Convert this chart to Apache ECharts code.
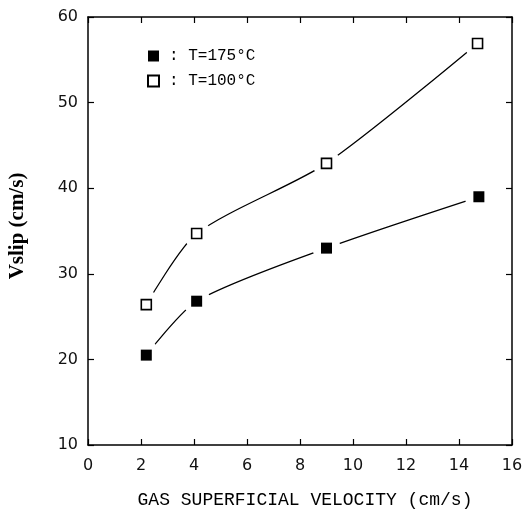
<!DOCTYPE html>
<html>
<head>
<meta charset="utf-8">
<script src="https://cdn.jsdelivr.net/npm/echarts@6/dist/echarts.min.js"></script>
<style>
  html, body { margin: 0; padding: 0; background: #fff; }
  #chart { width: 525px; height: 510px; }
</style>
</head>
<body>
<div id="chart"></div>
<script>
// gas superficial velocity (cm/s)
var velocity175 = [2.2, 4.1, 9.0, 14.75];
var velocity100 = [2.2, 4.1, 9.0, 14.7];
// Vslip (cm/s)
var vslip175 = [20.5, 26.8, 33.0, 39.0];
var vslip100 = [26.4, 34.7, 42.9, 56.9];
var xTicks = [0, 2, 4, 6, 8, 10, 12, 14, 16];
var yTicks = [10, 20, 30, 40, 50, 60];

function pairs(xs, ys) {
    var res = [];
    for (var i = 0; i < xs.length; i++) {
        res.push([xs[i], ys[i]]);
    }
    return res;
}

var pts175 = pairs(velocity175, vslip175);
var pts100 = pairs(velocity100, vslip100);

var chart = echarts.init(document.getElementById('chart'));

// each axis gets its own copies
function line() {
    return { show: true, onZero: false, lineStyle: { color: '#000', width: 1.5 } };
}
function tick() {
    return { show: true, inside: true, length: 6, lineStyle: { color: '#000', width: 1.2 } };
}
function label(margin) {
    return { show: true, margin: margin, color: '#111', fontSize: 16, fontFamily: 'DejaVu Sans' };
}

var option = {
    animation: false,
    backgroundColor: '#fff',
    grid: { left: 88, right: 13, top: 17, bottom: 65, containLabel: false, outerBoundsMode: 'none' },
    legend: {
        left: 142,
        top: 43,
        orient: 'vertical',
        itemWidth: 11,
        itemHeight: 11,
        itemGap: 9,
        icon: 'rect',
        data: ['T=175°C', 'T=100°C'],
        formatter: function (name) { return ': ' + name; },
        textStyle: { color: '#000', fontSize: 16, fontFamily: 'Liberation Mono', padding: [0, 0, 0, 5] }
    },
    xAxis: [
        {
            type: 'value',
            min: 0, max: 16, interval: 2,
            name: 'GAS SUPERFICIAL VELOCITY (cm/s)',
            nameLocation: 'middle',
            nameGap: 46,
            nameTextStyle: { color: '#000', fontSize: 18, fontFamily: 'Liberation Mono', padding: [0, 0, 0, 10] },
            axisLine: line(),
            axisTick: tick(),
            axisLabel: label(13),
            splitLine: { show: false }
        },
        {
            type: 'value',
            position: 'top',
            min: 0, max: 16, interval: 2,
            axisLine: line(),
            axisTick: tick(),
            axisLabel: { show: false },
            splitLine: { show: false }
        }
    ],
    yAxis: [
        {
            type: 'value',
            min: 10, max: 60, interval: 10,
            name: 'Vslip (cm/s)',
            nameLocation: 'middle',
            nameGap: 60,
            nameTextStyle: { color: '#000', fontSize: 21, fontWeight: 'bold', fontFamily: 'Liberation Serif', padding: [0, 0, 0, 10] },
            axisLine: line(),
            axisTick: tick(),
            axisLabel: label(10),
            splitLine: { show: false }
        },
        {
            type: 'value',
            position: 'right',
            min: 10, max: 60, interval: 10,
            axisLine: line(),
            axisTick: tick(),
            axisLabel: { show: false },
            splitLine: { show: false }
        }
    ],
    series: [
        {
            name: 'fit175',
            type: 'line',
            smooth: 0.25,
            symbol: 'none',
            lineStyle: { color: '#000', width: 1.3 },
            data: pts175,
            z: 1
        },
        {
            name: 'fit100',
            type: 'line',
            smooth: 0.25,
            symbol: 'none',
            lineStyle: { color: '#000', width: 1.3 },
            data: pts100,
            z: 1
        },
        // white blobs under the markers so the curves stop short of them
        {
            name: 'gap',
            type: 'scatter',
            symbol: 'circle',
            symbolSize: 28,
            silent: true,
            itemStyle: { color: '#fff', opacity: 1 },
            data: pts175.concat(pts100),
            z: 2
        },
        {
            name: 'T=175°C',
            type: 'scatter',
            symbol: 'rect',
            symbolSize: 11,
            itemStyle: { color: '#000', opacity: 1 },
            data: pts175,
            z: 3
        },
        {
            name: 'T=100°C',
            type: 'scatter',
            symbol: 'rect',
            symbolSize: 10,
            itemStyle: { color: '#fff', borderColor: '#000', borderWidth: 1.6, opacity: 1 },
            data: pts100,
            z: 3
        }
    ]
};

chart.setOption(option);
</script>
</body>
</html>
